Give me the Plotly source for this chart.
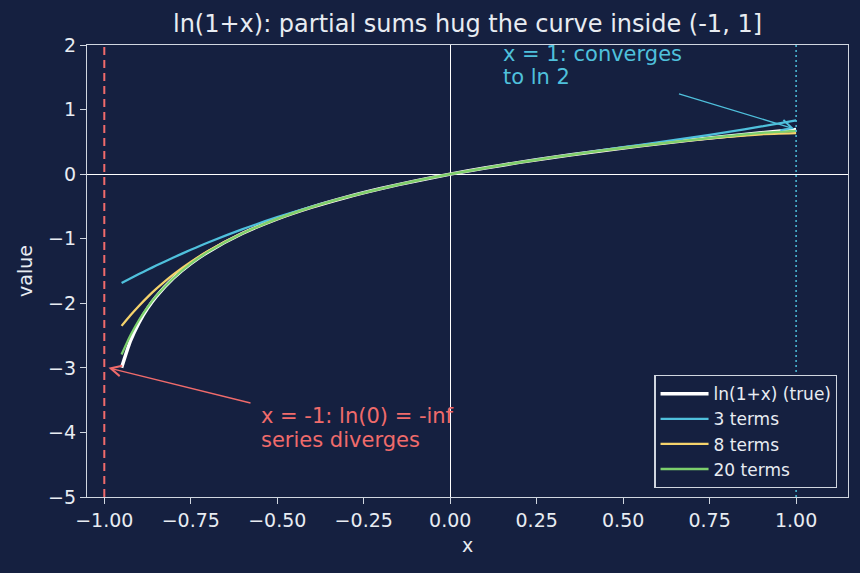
import plotly.graph_objects as go

# sample x positions
x_vals = [-0.95, -0.925, -0.9, -0.875, -0.85, -0.8, -0.75, -0.7, -0.6, -0.5, -0.4, -0.3,
          -0.2, -0.1, 0.0, 0.1, 0.2, 0.3, 0.4, 0.5, 0.6, 0.7, 0.8, 0.9, 1.0]

true_vals = [-2.996, -2.590, -2.303, -2.079, -1.897, -1.609, -1.386, -1.204, -0.916, -0.693,
             -0.511, -0.357, -0.223, -0.105, 0.0, 0.095, 0.182, 0.262, 0.336, 0.405, 0.470,
             0.531, 0.588, 0.642, 0.693]
terms3_vals = [-1.687, -1.617, -1.548, -1.481, -1.416, -1.291, -1.172, -1.059, -0.852, -0.667,
               -0.501, -0.354, -0.223, -0.105, 0.0, 0.095, 0.183, 0.264, 0.341, 0.417, 0.492,
               0.569, 0.651, 0.738, 0.833]
terms8_vals = [-2.350, -2.189, -2.041, -1.904, -1.778, -1.553, -1.360, -1.192, -0.914, -0.693,
               -0.511, -0.357, -0.223, -0.105, 0.0, 0.095, 0.182, 0.262, 0.336, 0.405, 0.469,
               0.528, 0.579, 0.618, 0.635]
terms20_vals = [-2.794, -2.504, -2.263, -2.061, -1.889, -1.608, -1.386, -1.204, -0.916, -0.693,
                -0.511, -0.357, -0.223, -0.105, 0.0, 0.095, 0.182, 0.262, 0.336, 0.405, 0.470,
                0.531, 0.588, 0.639, 0.669]

series_names = ["ln(1+x) (true)", "3 terms", "8 terms", "20 terms"]
x_ticks = [-1.0, -0.75, -0.5, -0.25, 0.0, 0.25, 0.5, 0.75, 1.0]
y_ticks = [-5, -4, -3, -2, -1, 0, 1, 2]
red_lines = ["x = -1: ln(0) = -inf", "series diverges"]
cyan_lines = ["x = 1: converges", "to ln 2"]

BG = "#152040"
FG = "#e8ecf2"
SPINE = "#d0d6e0"
RED = "#f06b6b"
CYAN = "#4fc0dc"
YELLOW = "#f5d36c"
GREEN = "#7ccf6c"
FONT = "DejaVu Sans"

fig = go.Figure()
series = [(true_vals, "#ffffff", 3.5), (terms3_vals, CYAN, 2.3),
          (terms8_vals, YELLOW, 2.3), (terms20_vals, GREEN, 2.3)]
for i, (name, (vals, col, w)) in enumerate(zip(series_names, series)):
    fig.add_trace(go.Scatter(x=x_vals, y=vals, mode="lines", name=name, legendgroup=f"g{i}",
                             line=dict(color=col, width=w, shape="spline", smoothing=0.6)))

fig.add_vline(x=-1, line=dict(color=RED, width=2, dash="8px,5px"))
fig.add_vline(x=1, line=dict(color=CYAN, width=1.5, dash="2px,3px"))

# annotation texts, one line each (paper y positions)
for txt, py in zip(red_lines, [0.2073, 0.1555]):
    fig.add_annotation(x=-0.55, y=py, xref="x", yref="paper", text=txt,
                       showarrow=False, xanchor="left", yanchor="top", align="left",
                       font=dict(family=FONT, size=21, color=RED), borderpad=0)
for txt, py in zip(cyan_lines, [1.0095, 0.958]):
    fig.add_annotation(x=0.15, y=py, xref="x", yref="paper", text=txt,
                       showarrow=False, xanchor="left", yanchor="top", align="left",
                       font=dict(family=FONT, size=21, color=CYAN), borderpad=0)

fig.add_annotation(x=-0.988, y=-3.0, xref="x", yref="y", ax=-0.573, ay=-3.55, axref="x", ayref="y",
                   text="", showarrow=True, arrowhead=5, arrowsize=1.6, arrowwidth=1.3,
                   arrowcolor=RED)
fig.add_annotation(x=1.0, y=0.693, xref="x", yref="y", ax=0.657, ay=1.25, axref="x", ayref="y",
                   text="", showarrow=True, arrowhead=5, arrowsize=1.6, arrowwidth=1.3,
                   arrowcolor=CYAN, standoff=2)

axis_common = dict(showline=True, linecolor=SPINE, linewidth=1.2, mirror=True,
                   ticks="outside", ticklen=6, tickwidth=1.2, tickcolor=SPINE,
                   showgrid=False, zeroline=True, zerolinecolor="#ffffff", zerolinewidth=1,
                   tickfont=dict(family=FONT, size=19, color=FG))

fig.update_xaxes(range=[-1.05, 1.15], tickvals=x_ticks, tickformat=".2f",
                 title=dict(text="x", font=dict(family=FONT, size=19, color=FG), standoff=8),
                 **axis_common)
fig.update_yaxes(range=[-5, 2], tickvals=y_ticks,
                 title=dict(text="value", font=dict(family=FONT, size=19, color=FG), standoff=10),
                 **axis_common)

fig.update_layout(
    width=860, height=573,
    margin=dict(l=87, r=12, t=45, b=76),
    paper_bgcolor=BG, plot_bgcolor=BG,
    font=dict(family=FONT, color=FG),
    title=dict(text="ln(1+x): partial sums hug the curve inside (-1, 1]",
               x=0.5, xref="paper", xanchor="center", y=1 - 24 / 573, yref="container",
               yanchor="middle", font=dict(family=FONT, size=24, color=FG)),
    legend=dict(x=0.986, y=0.02, xanchor="right", yanchor="bottom",
                bgcolor=BG, bordercolor=SPINE, borderwidth=1.2,
                font=dict(family=FONT, size=17, color=FG), tracegroupgap=0,
                itemwidth=48),
    showlegend=True,
)

fig.write_html("out.html")
